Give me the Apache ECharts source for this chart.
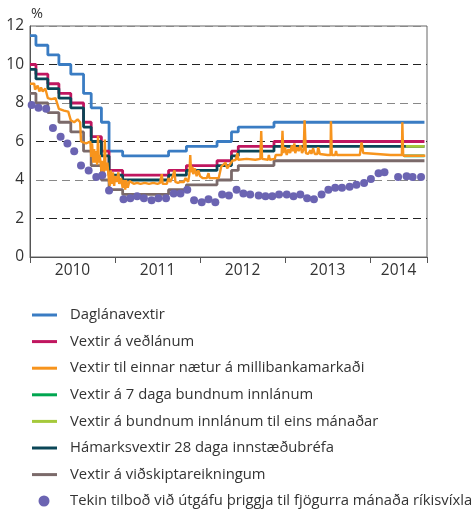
<!DOCTYPE html>
<html lang="is">

<head>
  <meta charset="UTF-8">
  <title>Vextir Seðlabanka Íslands</title>
  <script src="https://cdn.jsdelivr.net/npm/echarts@6.0.0/dist/echarts.min.js"></script>
</head>

<body style="margin: 0;padding: 0;">
  <div id="main" style="width: 474px;height: 509px;"></div>
  <script>
    // x values are decimal years, y values in %
    var seriesNames = [
      'Daglánavextir',
      'Vextir á veðlánum',
      'Vextir til einnar nætur á millibankamarkaði',
      'Vextir á 7 daga bundnum innlánum',
      'Vextir á bundnum innlánum til eins mánaðar',
      'Hámarksvextir 28 daga innstæðubréfa',
      'Vextir á viðskiptareikningum',
      'Tekin tilboð við útgáfu þriggja til fjögurra mánaða ríkisvíxla'
    ];
    var yearTicks = [2010, 2011, 2012, 2013, 2014, 2014.67];
    var yearLabels = [2010.5, 2011.5, 2012.5, 2013.5, 2014.335];

    // rate decision dates
    var decisionDates = [2010.0, 2010.07, 2010.21, 2010.34, 2010.48, 2010.63, 2010.72, 2010.84, 2010.93,
      2011.09, 2011.63, 2011.84, 2012.2, 2012.37, 2012.45, 2012.87, 2014.64];
    var overnightLending = [11.5, 11.0, 10.5, 10.0, 9.5, 8.5, 7.75, 7.0, 5.5, 5.25, 5.5, 5.75, 6.0, 6.5, 6.75, 7.0, 7.0];
    var collateralLending = [10.0, 9.5, 9.0, 8.5, 8.0, 7.0, 6.25, 5.5, 4.5, 4.25, 4.5, 4.75, 5.0, 5.5, 5.75, 6.0, 6.0];
    var cdMaxRate = [9.75, 9.25, 8.75, 8.25, 7.75, 6.75, 6.0, 5.25, 4.25, 4.0, 4.25, 4.5, 4.75, 5.25, 5.5, 5.75, 5.75];
    var currentAccount = [8.5, 8.0, 7.5, 7.0, 6.5, 5.5, 4.75, 4.0, 3.5, 3.25, 3.5, 3.75, 4.0, 4.5, 4.75, 5.0, 5.0];

    var termDeposit7d = [[2014.40, 5.25], [2014.64, 5.25]];
    var termDeposit1m = [[2014.42, 5.75], [2014.64, 5.75]];

    var interbankOvernight = [
      [2010.00, 9.0], [2010.05, 9.0], [2010.06, 8.7], [2010.09, 8.9], [2010.11, 8.6], [2010.13, 8.8],
      [2010.15, 8.6], [2010.18, 8.75], [2010.21, 8.25], [2010.25, 8.2], [2010.30, 8.25], [2010.34, 7.7],
      [2010.40, 7.6], [2010.45, 7.55], [2010.48, 7.1], [2010.52, 7.0], [2010.56, 7.15], [2010.59, 7.0],
      [2010.60, 6.0], [2010.66, 5.9], [2010.71, 6.0], [2010.72, 5.2], [2010.73, 5.9], [2010.745, 4.9],
      [2010.755, 5.6], [2010.765, 4.9], [2010.78, 5.5], [2010.79, 4.8], [2010.80, 6.3], [2010.81, 4.9],
      [2010.82, 5.3], [2010.835, 4.7], [2010.845, 4.3], [2010.855, 5.0], [2010.87, 4.4], [2010.88, 6.1],
      [2010.89, 4.5], [2010.91, 4.9], [2010.93, 3.9], [2010.94, 3.7], [2010.95, 4.5], [2010.96, 3.8],
      [2010.975, 4.4], [2010.99, 3.7], [2011.00, 4.2], [2011.02, 3.9], [2011.04, 4.4], [2011.05, 3.8],
      [2011.07, 4.1], [2011.09, 3.6], [2011.10, 4.0], [2011.12, 3.5], [2011.13, 4.0], [2011.15, 3.6],
      [2011.17, 3.95], [2011.19, 3.85], [2011.22, 3.8], [2011.26, 3.85], [2011.30, 3.8], [2011.35, 3.85],
      [2011.40, 3.8], [2011.45, 3.85], [2011.50, 3.8], [2011.53, 3.85], [2011.55, 4.3], [2011.56, 3.8],
      [2011.58, 3.85], [2011.61, 3.8], [2011.63, 4.1], [2011.65, 3.9], [2011.68, 4.2], [2011.70, 4.5],
      [2011.71, 3.9], [2011.74, 3.85], [2011.77, 3.9], [2011.79, 4.0], [2011.81, 3.9], [2011.83, 4.1],
      [2011.86, 3.9], [2011.875, 4.3], [2011.885, 5.3], [2011.895, 4.4], [2011.91, 4.7], [2011.92, 4.3],
      [2011.94, 4.6], [2011.96, 4.2], [2011.98, 4.5], [2012.00, 4.2], [2012.03, 4.1], [2012.08, 4.1],
      [2012.10, 4.35], [2012.11, 4.1], [2012.16, 4.1], [2012.22, 4.1], [2012.25, 4.7], [2012.27, 4.6],
      [2012.30, 4.9], [2012.32, 4.6], [2012.35, 4.8], [2012.38, 5.0], [2012.42, 5.05], [2012.44, 5.4],
      [2012.45, 5.05], [2012.55, 5.1], [2012.65, 5.05], [2012.71, 5.1], [2012.72, 6.55], [2012.73, 5.1],
      [2012.80, 5.05], [2012.81, 5.3], [2012.82, 5.05], [2012.88, 5.1], [2012.89, 5.3], [2012.96, 5.3],
      [2012.97, 6.55], [2012.98, 5.4], [2013.00, 5.7], [2013.02, 5.3], [2013.04, 5.6], [2013.06, 5.4],
      [2013.08, 5.8], [2013.09, 5.5], [2013.11, 5.9], [2013.12, 5.4], [2013.14, 5.7], [2013.16, 5.5],
      [2013.18, 5.8], [2013.20, 5.4], [2013.22, 5.6], [2013.23, 7.1], [2013.245, 5.4], [2013.27, 5.35],
      [2013.30, 5.55], [2013.31, 5.35], [2013.33, 5.65], [2013.35, 5.35], [2013.38, 5.35], [2013.39, 5.7],
      [2013.41, 5.35], [2013.50, 5.3], [2013.535, 5.3], [2013.54, 7.05], [2013.55, 5.3], [2013.59, 5.3],
      [2013.60, 5.5], [2013.61, 5.3], [2013.88, 5.3], [2013.90, 5.95], [2013.92, 5.4], [2013.94, 5.3],
      [2014.24, 5.3], [2014.25, 5.4], [2014.26, 5.3], [2014.375, 5.3], [2014.38, 7.0], [2014.39, 5.26],
      [2014.65, 5.26]
    ];

    var billDates = [2010.02, 2010.10, 2010.19, 2010.27, 2010.36, 2010.44, 2010.52, 2010.60, 2010.69,
      2010.78, 2010.85, 2010.93, 2011.10, 2011.18, 2011.26, 2011.34, 2011.43, 2011.51, 2011.60, 2011.69,
      2011.77, 2011.85, 2011.93, 2012.02, 2012.10, 2012.18, 2012.26, 2012.34, 2012.43, 2012.51, 2012.59,
      2012.69, 2012.77, 2012.85, 2012.93, 2013.02, 2013.10, 2013.18, 2013.26, 2013.34, 2013.43, 2013.51,
      2013.59, 2013.67, 2013.76, 2013.84, 2013.93, 2014.01, 2014.10, 2014.17, 2014.33, 2014.43, 2014.50,
      2014.60];
    var billRates = [7.9, 7.75, 7.7, 6.7, 6.25, 5.9, 5.5, 4.75, 4.5, 4.15, 4.25, 3.45, 3.0, 3.05, 3.15,
      3.05, 2.95, 3.05, 3.05, 3.3, 3.3, 3.5, 2.95, 2.85, 3.0, 2.85, 3.25, 3.2, 3.5, 3.3, 3.25, 3.2, 3.15,
      3.15, 3.25, 3.25, 3.15, 3.25, 3.05, 3.0, 3.25, 3.5, 3.6, 3.6, 3.65, 3.75, 3.85, 4.05, 4.35, 4.4,
      4.15, 4.2, 4.15, 4.15];

    var colors = ['#3a7cc3', '#c0165f', '#f7941d', '#00a650', '#a5c93b', '#0b4657', '#7b6a6a', '#6b64b2'];

    function steps(values) {
      return decisionDates.map(function (d, i) { return [d, values[i]]; });
    }

    function stepLine(name, data, color, z) {
      return {
        name: name,
        type: 'line',
        step: 'end',
        data: data,
        showSymbol: false,
        z: z,
        lineStyle: { color: color, width: 2.8 },
        itemStyle: { color: color }
      };
    }

    var chartDom = document.getElementById('main');
    var myChart = echarts.init(chartDom);
    var option;

    option = {
      animation: false,
      textStyle: { fontFamily: 'Open Sans' },
      grid: {
        left: 30, top: 26, width: 397, height: 231,
        show: true, borderColor: '#666', borderWidth: 1
      },
      xAxis: {
        type: 'value',
        min: 2010,
        max: 2014.67,
        splitLine: { show: false },
        axisLine: { lineStyle: { color: '#555', width: 1 } },
        axisTick: { show: true, customValues: yearTicks, length: 6, lineStyle: { color: '#555' } },
        axisLabel: {
          customValues: yearLabels,
          formatter: function (v) { return Math.floor(v); },
          fontSize: 15.5, color: '#333', margin: 6
        }
      },
      yAxis: {
        type: 'value',
        min: 0,
        max: 12,
        interval: 2,
        name: '%',
        nameGap: 5,
        nameTextStyle: { fontSize: 14.5, color: '#333', align: 'left', padding: [0, 0, 0, 1] },
        axisLine: { show: true, lineStyle: { color: '#555' } },
        axisTick: { show: false },
        axisLabel: { fontSize: 15.5, color: '#333', margin: 6 },
        splitLine: {
          lineStyle: {
            color: ['#222', '#222', '#888', '#222', '#888', '#222', '#888'],
            type: [8, 5], dashOffset: 7, width: 1
          }
        }
      },
      legend: [
        {
          data: seriesNames.slice(0, 7),
          orient: 'vertical',
          left: 32, top: 307, padding: 0,
          icon: 'rect', itemWidth: 25, itemHeight: 3, itemGap: 10.6,
          textStyle: { fontSize: 14.8, color: '#333', lineHeight: 16, padding: [0, 0, 0, 8] }
        },
        {
          data: seriesNames.slice(7),
          orient: 'vertical',
          left: 38.5, top: 493, padding: 0,
          icon: 'circle', itemWidth: 11, itemHeight: 11,
          textStyle: { fontSize: 14.8, color: '#333', lineHeight: 16, padding: [0, 0, 0, 15.5] }
        }
      ],
      series: [
        stepLine(seriesNames[0], steps(overnightLending), colors[0], 2),
        stepLine(seriesNames[1], steps(collateralLending), colors[1], 2),
        {
          name: seriesNames[2],
          type: 'line',
          data: interbankOvernight,
          showSymbol: false,
          z: 4,
          lineStyle: { color: colors[2], width: 2.4 },
          itemStyle: { color: colors[2] }
        },
        stepLine(seriesNames[3], termDeposit7d, colors[3], 1),
        stepLine(seriesNames[4], termDeposit1m, colors[4], 3),
        stepLine(seriesNames[5], steps(cdMaxRate), colors[5], 2),
        stepLine(seriesNames[6], steps(currentAccount), colors[6], 2),
        {
          name: seriesNames[7],
          type: 'scatter',
          data: billDates.map(function (d, i) { return [d, billRates[i]]; }),
          symbolSize: 8,
          z: 5,
          itemStyle: { color: colors[7], opacity: 1 }
        }
      ]
    };

    option && myChart.setOption(option);
  </script>
</body>

</html>
